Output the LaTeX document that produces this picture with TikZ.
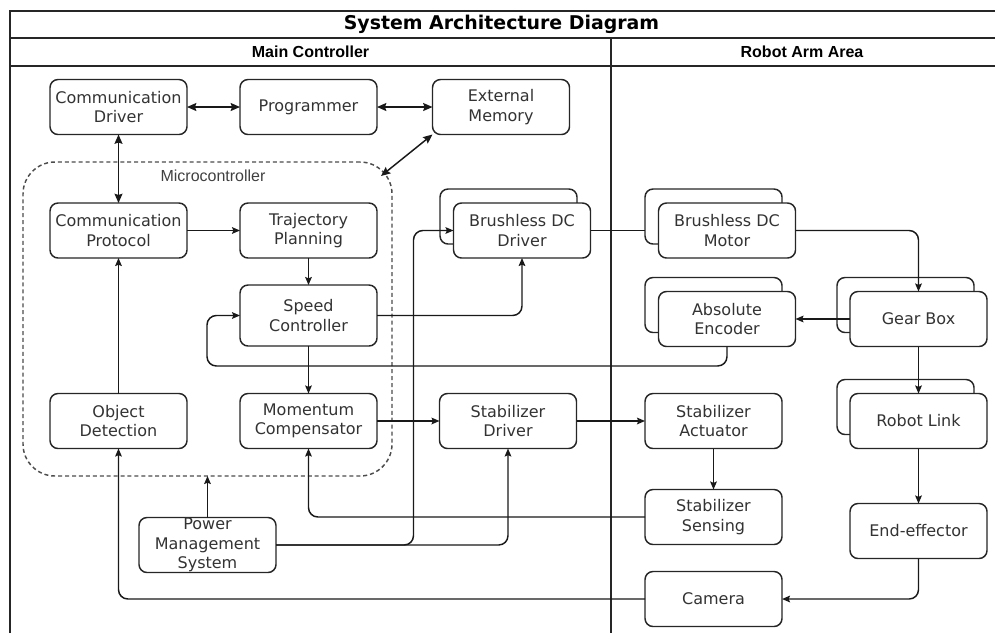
\documentclass[tikz,border=0pt]{standalone}
\usepackage{fontspec}
\setmainfont{DejaVu Sans}
\newfontfamily\hdrfont{Liberation Sans}
\usetikzlibrary{arrows.meta,calc}
\begin{document}
\begin{tikzpicture}[x=0.75pt,y=-0.75pt,
  line width=1.1pt,
  box/.style={draw=black!85, fill=white, rounded corners=6pt,
    minimum width=102.75pt, minimum height=41.25pt,
    inner sep=0pt, outer sep=0pt, align=center,
    font=\fontsize{12}{14.5}\selectfont, text=black!80},
  tallbox/.style={box, minimum height=45.75pt},
  wire/.style={draw=black!90, rounded corners=7pt},
  arr/.style={wire, -{Stealth[length=6pt,width=5pt,inset=1pt]}},
  darr/.style={wire, {Stealth[length=7pt,width=6pt,inset=1pt]}-{Stealth[length=7pt,width=6pt,inset=1pt]}},
  lane/.style={draw=black!85},
  hdr/.style={font=\hdrfont\bfseries\fontsize{12}{14}\selectfont}]

\useasboundingbox (0,0) rectangle (995,633);

% swimlane frame
\draw[lane] (10,633) -- (10,11) -- (995,11);
\draw[lane] (10,38) -- (995,38);
\draw[lane] (10,66) -- (995,66);
\draw[lane] (611,38) -- (611,633);
\node (title) at (501.5,24.5) {\bfseries\fontsize{14.2}{16}\selectfont System Architecture Diagram};
\node[hdr] (laneA) at (310.5,52) {Main Controller};
\node[hdr] (laneB) at (802,52) {Robot Arm Area};

% microcontroller group
\node (mc) [draw=black!70, dashed, dash pattern=on 3pt off 2.2pt, rounded corners=24pt,
  minimum width=276.75pt, minimum height=235.5pt, inner sep=0pt, outer sep=0pt] at (207.5,319) {};
\node (mclabel) at (213,176) {\hdrfont\fontsize{12}{14}\selectfont\color{black!75}Microcontroller};
\coordinate (mcA) at (381,176);

% main controller blocks
\node[box] (cdrv)  at (118.5,107)   {Communication\\Driver};
\node[box] (prog)  at (308.5,107)   {Programmer};
\node[box] (xmem)  at (501,107)     {External\\Memory};
\node[box] (cprot) at (118.5,230.5) {Communication\\Protocol};
\node[box] (traj)  at (308.5,230.5) {Trajectory\\Planning};
\node[tallbox] (speed) at (308.5,315.5) {Speed\\Controller};
\node[box] (objd)  at (118.5,421)   {Object\\Detection};
\node[box] (mom)   at (308.5,421)   {Momentum\\Compensator};
\node[box] (pms)   at (207.5,545)   {Power\\Management\\System};
\node[box] (bdrvB) at (508.5,216.5) {};
\node[box] (bdrv)  at (522,230.5)   {Brushless DC\\Driver};
\node[box] (sdrv)  at (508,421)     {Stabilizer\\Driver};

% robot arm blocks
\node[box] (bmotB) at (713.5,216.5) {};
\node[box] (bmot)  at (727,230.5)   {Brushless DC\\Motor};
\node[box] (encB)  at (713.5,305)   {};
\node[box] (enc)   at (727,319)     {Absolute\\Encoder};
\node[box] (gearB) at (905.5,305)   {};
\node[box] (gear)  at (918.5,319)   {Gear Box};
\node[box] (linkB) at (905.5,407)   {};
\node[box] (link)  at (918.5,421)   {Robot Link};
\node[box] (act)   at (713.5,421)   {Stabilizer\\Actuator};
\node[box] (sens)  at (713.5,517)   {Stabilizer\\Sensing};
\node[box] (ee)    at (918.5,531)   {End-effector};
\node[box] (cam)   at (713.5,599)   {Camera};

% routing points
\coordinate (loop) at (207,366);
\coordinate (pj) at ($(bdrv.west)+(-40,0)$);

% connectors
\draw[darr] (cdrv.east) -- (prog.west);
\draw[darr] (prog.east) -- (xmem.west);
\draw[darr] (cdrv.south) -- (cprot.north);
\draw[darr] (mcA) -- (xmem.south west);
\draw[arr] (cprot) -- (traj);
\draw[arr] (traj) -- (speed);
\draw[arr] (speed) -- (mom);
\draw[arr] (objd) -- (cprot);
\draw[arr] (speed.east) -| (bdrv.south);
\draw[arr] (enc.south) |- (loop) |- (speed.west);
\draw[arr] (pms.north) -- (pms.north |- mc.south);
\draw[arr] (pms.east) -| (pj) -- (bdrv.west);
\draw[arr] (pms.east) -| (sdrv.south);
\draw[arr] (mom) -- (sdrv);
\draw[arr] (sdrv) -- (act);
\draw[arr] (act) -- (sens);
\draw[arr] (sens.west) -| (mom.south);
\draw[wire] (bdrv.east) -- (bdrv.east -| bmotB.west);
\draw[arr] (bmot.east) -| (gear.north);
\draw[arr] (gear.west) -- (enc.east);
\draw[arr] (gear.south) -- (link.north);
\draw[arr] (link.south) -- (ee.north);
\draw[arr] (ee.south) |- (cam.east);
\draw[arr] (cam.west) -| (objd.south);
\end{tikzpicture}
\end{document}
